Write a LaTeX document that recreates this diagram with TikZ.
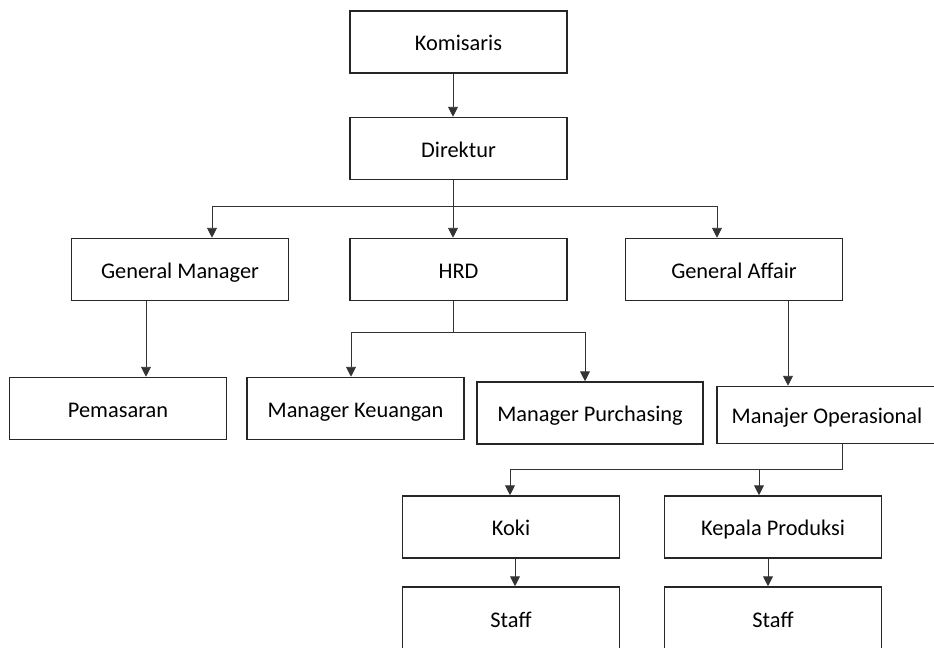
\documentclass[tikz,border=0pt]{standalone}
\usepackage{fontspec}
\setmainfont{Carlito}
\usepackage{tikz}
\usetikzlibrary{arrows.meta}

\tikzset{
    box/.style={draw=black!85, line width=1.1pt, inner sep=0pt,
        minimum width=5.425cm, minimum height=1.55cm,
        text height=12.8pt, text depth=0pt,
        font=\fontsize{15.9}{19}\selectfont},
    arr/.style={-{Triangle[width=7pt,length=7pt]}, line width=0.6pt, draw=black!80},
    link/.style={line width=0.6pt, draw=black!80}
}

\begin{document}
\begin{tikzpicture}[x=0.025cm, y=-0.025cm]
    \useasboundingbox (0,0) rectangle (934,648);
    \clip (0,0) rectangle (934,648);

    \node[box] (kom) at (458.5,42) {Komisaris};
    \node[box] (dir) at (458.5,148.5) {Direktur};
    \node[box] (gm) at (180,269.5) {General Manager};
    \node[box] (hrd) at (458.5,269.5) {HRD};
    \node[box] (ga) at (734,269.5) {General Affair};
    \node[box] (pem) at (118,408.5) {Pemasaran};
    \node[box] (keu) at (355.5,408.5) {Manager Keuangan};
    \node[box, minimum width=5.65cm] (pur) at (590,413) {Manager Purchasing};
    \node[box, minimum width=5.5cm, minimum height=1.425cm] (ops) at (827,415) {Manajer Operasional};
    \node[box] (koki) at (511,527) {Koki};
    \node[box] (kp) at (773,527) {Kepala Produksi};
    \node[box] (stf1) at (511,618) {Staff};
    \node[box] (stf2) at (773,618) {Staff};

    \coordinate (top) at (453,206);
    \coordinate (topL) at (212,206);
    \coordinate (topR) at (717,206);
    \coordinate (mid) at (453,332);
    \coordinate (midL) at (351,332);
    \coordinate (midR) at (585,332);
    \coordinate (low) at (842,469);
    \coordinate (lowL) at (510,469);
    \coordinate (lowR) at (759,469);
    \coordinate (gmx) at (146,0);
    \coordinate (gax) at (788,0);
    \coordinate (sx1) at (515,0);
    \coordinate (sx2) at (768,0);

    \draw[arr] (kom.south -| top) -- (dir.north -| top);

    \draw[link] (dir.south -| top) -- (top);
    \draw[link] (topL) -- (topR);
    \draw[arr] (topL) -- (gm.north -| topL);
    \draw[arr] (top) -- (hrd.north -| top);
    \draw[arr] (topR) -- (ga.north -| topR);

    \draw[arr] (gm.south -| gmx) -- (pem.north -| gmx);

    \draw[link] (hrd.south -| mid) -- (mid);
    \draw[link] (midL) -- (midR);
    \draw[arr] (midL) -- (keu.north -| midL);
    \draw[arr] (midR) -- (pur.north -| midR);

    \draw[arr] (ga.south -| gax) -- (ops.north -| gax);

    \draw[link] (ops.south -| low) -- (low) -- (lowL);
    \draw[arr] (lowL) -- (koki.north -| lowL);
    \draw[arr] (lowR) -- (kp.north -| lowR);

    \draw[arr] (koki.south -| sx1) -- (stf1.north -| sx1);
    \draw[arr] (kp.south -| sx2) -- (stf2.north -| sx2);
\end{tikzpicture}
\end{document}
